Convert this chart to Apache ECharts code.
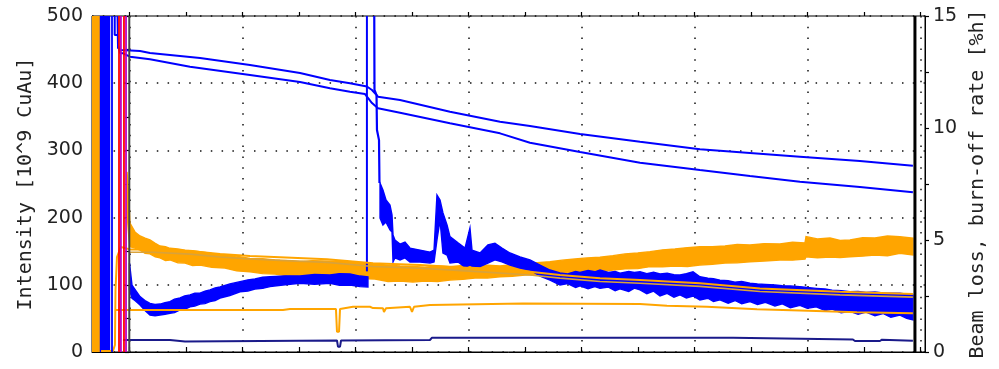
<!DOCTYPE html>
<html><head><meta charset="utf-8">
<script src="https://cdn.jsdelivr.net/npm/echarts@6/dist/echarts.min.js"></script>
<style>html,body{margin:0;padding:0;background:#fff}#c{width:999px;height:369px}</style>
</head><body><div id="c"></div>
<script>
// ---- data (x in hours, left axis: intensity 10^9, right axis: %/h) ----
const intensityA = [[-0.129,500],[-0.129,471.7],[-0.100,471.7],[-0.100,452.4],[-0.074,449.4],[0.095,447.9],[0.183,444.9],[0.626,437.5],[1.068,427.1],[1.511,415.2],[1.776,404.8],[1.953,399.9],[2.103,395.1],[2.148,389.9],[2.201,379.9],[2.396,375.0],[2.838,357.6],[3.281,342.7],[3.546,336.3],[3.989,324.4],[4.520,312.9],[5.050,301.6],[5.493,296.1],[5.935,290.6],[6.466,284.2],[6.935,277.2]];
const intensityB = [[-0.104,500],[-0.100,456.8],[-0.082,444.9],[-0.056,444.5],[0.006,439.4],[0.183,435.6],[0.537,424.6],[1.068,412.2],[1.511,401.8],[1.776,392.4],[1.953,387.4],[2.086,383.9],[2.148,370.5],[2.201,362.6],[2.396,356.1],[2.838,340.3],[3.281,325.4],[3.546,311.5],[3.989,297.6],[4.520,281.7],[5.050,270.8],[5.493,261.9],[5.935,253.3],[6.466,245.5],[6.935,237.6]];
// noisy bands: [x, low, high] in %/h
const lossOrangeBand = [[-0.020,6.21,8.04],[-0.005,5.2,7.0],[0.006,4.70,5.75],[0.050,4.64,5.36],[0.095,4.55,5.18],[0.14,4.40,5.08],[0.183,4.38,5.00],[0.23,4.25,4.85],[0.272,4.20,4.73],[0.32,4.08,4.70],[0.360,4.11,4.63],[0.43,3.98,4.60],[0.493,3.97,4.55],[0.56,3.86,4.52],[0.626,3.88,4.48],[0.73,3.78,4.40],[0.847,3.75,4.33],[0.95,3.62,4.28],[1.068,3.58,4.18],[1.18,3.50,4.16],[1.289,3.48,4.11],[1.40,3.40,4.08],[1.511,3.39,4.03],[1.62,3.36,4.08],[1.732,3.39,4.06],[1.85,3.32,4.05],[1.953,3.36,4.03],[2.06,3.28,3.98],[2.174,3.26,3.93],[2.29,3.15,3.88],[2.396,3.17,3.84],[2.51,3.12,3.82],[2.617,3.17,3.79],[2.73,3.15,3.84],[2.838,3.21,3.81],[2.95,3.24,3.86],[3.059,3.30,3.84],[3.17,3.30,3.88],[3.281,3.36,3.84],[3.39,3.38,3.90],[3.502,3.44,3.93],[3.61,3.46,3.99],[3.723,3.51,4.03],[3.83,3.50,4.10],[3.944,3.57,4.15],[4.05,3.55,4.20],[4.165,3.58,4.23],[4.28,3.66,4.30],[4.387,3.71,4.38],[4.50,3.72,4.42],[4.608,3.81,4.48],[4.72,3.80,4.56],[4.829,3.84,4.60],[4.94,3.82,4.66],[5.050,3.88,4.70],[5.16,3.92,4.70],[5.272,3.97,4.73],[5.38,3.98,4.80],[5.493,4.03,4.78],[5.62,4.06,4.84],[5.758,4.11,4.82],[5.87,4.10,4.90],[5.980,4.15,4.87],[5.989,4.25,5.15],[6.09,4.20,5.05],[6.201,4.24,5.09],[6.29,4.22,4.98],[6.378,4.25,5.00],[6.49,4.28,5.10],[6.599,4.33,5.09],[6.71,4.30,5.18],[6.820,4.41,5.15],[6.935,4.33,5.08]];
const lossBlueBand1 = [[0.002,2.77,3.97],[0.024,2.40,2.99],[0.050,2.30,2.80],[0.095,2.10,2.47],[0.139,1.85,2.30],[0.183,1.65,2.17],[0.228,1.62,2.12],[0.272,1.65,2.14],[0.316,1.68,2.20],[0.360,1.73,2.25],[0.40,1.76,2.36],[0.449,1.88,2.41],[0.49,1.90,2.50],[0.537,2.02,2.55],[0.58,2.05,2.62],[0.626,2.14,2.63],[0.67,2.16,2.72],[0.714,2.25,2.77],[0.76,2.30,2.86],[0.803,2.41,2.90],[0.89,2.52,3.04],[0.980,2.69,3.14],[1.05,2.72,3.22],[1.112,2.81,3.26],[1.18,2.84,3.34],[1.245,2.92,3.36],[1.38,3.00,3.40],[1.511,3.07,3.39],[1.64,3.02,3.46],[1.776,3.07,3.44],[1.86,2.98,3.50],[1.953,2.99,3.48],[2.042,2.92,3.39],[2.112,2.90,3.35]];
const lossBlueBand2 = [[2.219,5.98,7.54],[2.245,5.67,7.23],[2.272,5.80,6.79],[2.307,5.45,6.56],[2.325,5.36,6.12],[2.334,4.02,5.22],[2.351,4.20,5.00],[2.396,4.11,4.82],[2.440,4.20,4.91],[2.484,4.02,4.64],[2.573,4.02,4.55],[2.661,3.97,4.46],[2.697,4.02,4.55],[2.723,5.00,7.01],[2.750,5.89,6.79],[2.776,4.42,6.21],[2.812,4.33,5.67],[2.838,3.97,5.15],[2.909,4.02,4.87],[2.971,3.79,4.64],[3.015,3.88,5.54],[3.033,3.84,4.55],[3.104,3.81,4.42],[3.174,3.97,4.78],[3.236,4.11,4.85],[3.298,4.02,4.64],[3.369,3.88,4.42],[3.458,3.75,4.24],[3.546,3.66,4.11],[3.635,3.39,3.88],[3.723,3.21,3.66],[3.812,2.99,3.53],[3.88,3.05,3.49],[3.95,2.88,3.60],[3.989,2.95,3.55],[4.06,2.82,3.64],[4.12,2.92,3.58],[4.166,2.84,3.66],[4.24,2.90,3.55],[4.30,2.74,3.60],[4.343,2.82,3.52],[4.42,2.70,3.60],[4.47,2.85,3.55],[4.520,2.77,3.58],[4.58,2.60,3.50],[4.64,2.72,3.56],[4.697,2.50,3.48],[4.76,2.62,3.52],[4.82,2.45,3.45],[4.874,2.55,3.44],[4.93,2.41,3.50],[4.989,2.50,3.58],[5.050,2.32,3.36],[5.12,2.40,3.30],[5.17,2.25,3.27],[5.227,2.33,3.21],[5.30,2.18,3.18],[5.36,2.30,3.12],[5.42,2.15,3.15],[5.493,2.25,3.07],[5.56,2.12,3.04],[5.63,2.22,3.02],[5.714,2.05,2.99],[5.78,2.15,2.96],[5.85,1.98,2.95],[5.935,2.08,2.92],[6.00,1.95,2.88],[6.08,2.02,2.84],[6.157,1.85,2.81],[6.22,1.92,2.76],[6.30,1.75,2.74],[6.378,1.82,2.69],[6.45,1.68,2.70],[6.52,1.78,2.66],[6.599,1.62,2.68],[6.67,1.72,2.64],[6.74,1.55,2.63],[6.820,1.65,2.62],[6.88,1.50,2.58],[6.935,1.43,2.54]];
const lossBlueSpike1 = [[2.103,3.6],[2.103,15]];
const lossBlueSpike2 = [[2.168,15],[2.170,11.70],[2.188,11.47],[2.192,9.91],[2.210,9.46],[2.214,7.54]];
const burnOffA = [[-0.250,0.05],[-0.144,0.05],[-0.127,0.31],[-0.122,2.77],[-0.109,4.24],[-0.074,4.69],[0.006,4.58],[0.210,4.58],[0.227,4.52],[0.537,4.51],[0.803,4.38],[1.068,4.29],[1.334,4.23],[1.750,4.14],[2.157,3.96],[2.573,3.88],[3.015,3.75],[3.546,3.58],[3.812,3.44],[4.166,3.29],[4.520,3.21],[5.050,3.07],[5.581,2.84],[6.289,2.69],[6.935,2.59]];
const burnOffB = [[0.006,4.45],[0.210,4.45],[0.227,4.38],[0.537,4.37],[0.803,4.24],[1.068,4.15],[1.334,4.09],[1.750,4.00],[2.157,3.82],[2.573,3.74],[3.015,3.61],[3.546,3.44],[3.812,3.30],[4.166,3.15],[4.520,3.07],[5.050,2.93],[5.581,2.70],[6.289,2.55],[6.935,2.45]];
const burnOffC = [[-0.127,1.875],[1.360,1.875],[1.422,1.92],[1.829,1.92],[1.838,0.906],[1.856,0.906],[1.865,1.92],[1.980,2.02],[2.130,2.02],[2.157,1.96],[2.245,1.95],[2.254,1.79],[2.272,1.95],[2.484,2.02],[2.502,1.79],[2.520,2.02],[2.661,2.10],[3.484,2.17],[4.520,2.14],[4.758,2.07],[5.112,2.02],[5.555,1.91],[5.935,1.85],[6.440,1.77],[6.935,1.73]];
const lossNavy = [[-0.056,0.536],[0.360,0.536],[0.369,0.469],[0.493,0.469],[0.502,0.513],[1.838,0.513],[1.847,0.237],[1.865,0.237],[1.874,0.513],[2.661,0.536],[2.679,0.638],[5.343,0.638],[5.351,0.567],[6.404,0.558],[6.422,0.491],[6.643,0.491],[6.661,0.549],[6.935,0.50]];
// injection region
const injOrangeFill = [[-0.330,0,15],[-0.259,0,15]];
const injBlueFill = [[-0.255,0,15],[-0.175,0,15]];
const injBlueLines = [-0.153];
const injRedLines = [-0.091,-0.047];
const injMagentaLines = [-0.074,-0.029];
const startTime = 0;
const endTime = 6.953;
// axis ticks
const leftTicks = {min:0, max:500, step:100};
const rightTicks = {min:0, max:15, step:5};
const timeTicks = {min:0, max:7, step:1};

// ---- chart ----
const DOT = {color:'#111', width:1.5, type:[1.5,9.3]};
function band(data, color, z){
  return {type:'custom', xAxisIndex:0, yAxisIndex:1, data:data, z:z, clip:true, silent:true,
    encode:{x:0, y:[1,2]},
    renderItem:function(params, api){
      if(params.dataIndex!==0) return null;
      const pts=[];
      for(let i=0;i<data.length;i++) pts.push(api.coord([data[i][0], data[i][2]]));
      for(let i=data.length-1;i>=0;i--) pts.push(api.coord([data[i][0], data[i][1]]));
      return {type:'polygon', shape:{points:pts}, style:{fill:color, stroke:color, lineWidth:1.4}};
    }};
}
function line(data, color, width, yAxisIndex, z){
  return {type:'line', xAxisIndex:0, yAxisIndex:yAxisIndex, data:data, symbol:'none', silent:true, z:z,
    lineStyle:{color:color, width:width}};
}
function vline(x, color, width, z){ return line([[x,0],[x,15]], color, width, 1, z); }

const series = [
  band(injOrangeFill, '#ffa500', 2),
  band(injBlueFill, '#0000ff', 2),
  band(lossOrangeBand, '#ffa500', 3),
  band(lossBlueBand1, '#0000ff', 4),
  band(lossBlueBand2, '#0000ff', 4),
  line(lossBlueSpike1, '#0000ff', 2, 1, 4),
  line(lossBlueSpike2, '#0000ff', 2.2, 1, 4),
  line(burnOffC, '#ffa500', 2, 1, 5),
  line(burnOffA, '#ffa500', 2, 1, 5),
  line(burnOffB, '#d9a23a', 1.6, 1, 5),
  line(lossNavy, '#1a1a8a', 2, 1, 5),
  line(intensityA, '#0000ff', 2, 0, 6),
  line(intensityB, '#0000ff', 2, 0, 6),
];
injBlueLines.forEach(x=>series.push(vline(x,'#0000ff',1.8,6)));
injRedLines.forEach(x=>series.push(vline(x,'#ff0000',1.8,7)));
injMagentaLines.forEach(x=>series.push(vline(x,'#c000c0',1.8,7)));
series.push(vline(startTime,'#444444',2,8));
series.push(vline(endTime,'#000000',3,8));

const tickStyle = {color:'#000', width:1.2};
const option = {
  animation:false,
  grid:[
    {left:92, right:74, top:16, bottom:17, show:true, borderColor:'#000', borderWidth:1},
    {left:129.3, right:78.7, top:16, bottom:17}
  ],
  xAxis:[
    {gridIndex:0, type:'value', min:-0.330, max:7.042, axisLine:{show:true, onZero:false, lineStyle:{color:'#000'}}, axisTick:{show:false}, axisLabel:{show:false}, splitLine:{show:false}},
    {gridIndex:1, type:'value', min:timeTicks.min, max:timeTicks.max, interval:timeTicks.step, axisLine:{show:false}, axisTick:{show:true, inside:true, length:5, lineStyle:tickStyle}, minorTick:{show:true, splitNumber:2, length:5, lineStyle:tickStyle}, axisLabel:{show:false}, splitLine:{show:true, lineStyle:DOT}},
    {gridIndex:1, type:'value', min:timeTicks.min, max:timeTicks.max, interval:timeTicks.step, axisLine:{show:false}, axisTick:{show:true, inside:false, length:4, lineStyle:tickStyle}, minorTick:{show:true, splitNumber:2, length:4, lineStyle:tickStyle}, axisLabel:{show:false}, splitLine:{show:false}}
  ],
  yAxis:[
    {gridIndex:0, type:'value', position:'left', min:leftTicks.min, max:leftTicks.max, interval:leftTicks.step,
      name:'Intensity [10^9 CuAu]', nameLocation:'middle', nameRotate:90, nameGap:56,
      nameTextStyle:{fontFamily:'DejaVu Sans Mono', fontSize:20, color:'#222'},
      axisLine:{show:true, lineStyle:{color:'#000'}}, axisTick:{show:true, length:4, lineStyle:tickStyle},
      minorTick:{show:true, splitNumber:2, length:4, lineStyle:tickStyle},
      axisLabel:{fontFamily:'DejaVu Sans', fontSize:19, color:'#222', margin:9},
      splitLine:{show:true, lineStyle:DOT}},
    {gridIndex:0, type:'value', position:'right', min:rightTicks.min, max:rightTicks.max, interval:rightTicks.step,
      name:'Beam loss, burn-off rate [%h]', nameLocation:'middle', nameRotate:90, nameGap:43,
      nameTextStyle:{fontFamily:'DejaVu Sans Mono', fontSize:20, color:'#222'},
      axisLine:{show:true, lineStyle:{color:'#000'}}, axisTick:{show:true, length:4, lineStyle:tickStyle},
      minorTick:{show:true, splitNumber:2, length:4, lineStyle:tickStyle},
      axisLabel:{fontFamily:'DejaVu Sans', fontSize:19, color:'#222', margin:8},
      splitLine:{show:false}},
    {gridIndex:1, type:'value', min:0, max:15, show:false}
  ],
  series:series
};
echarts.init(document.getElementById('c'), null, {renderer:'canvas'}).setOption(option);
</script></body></html>
